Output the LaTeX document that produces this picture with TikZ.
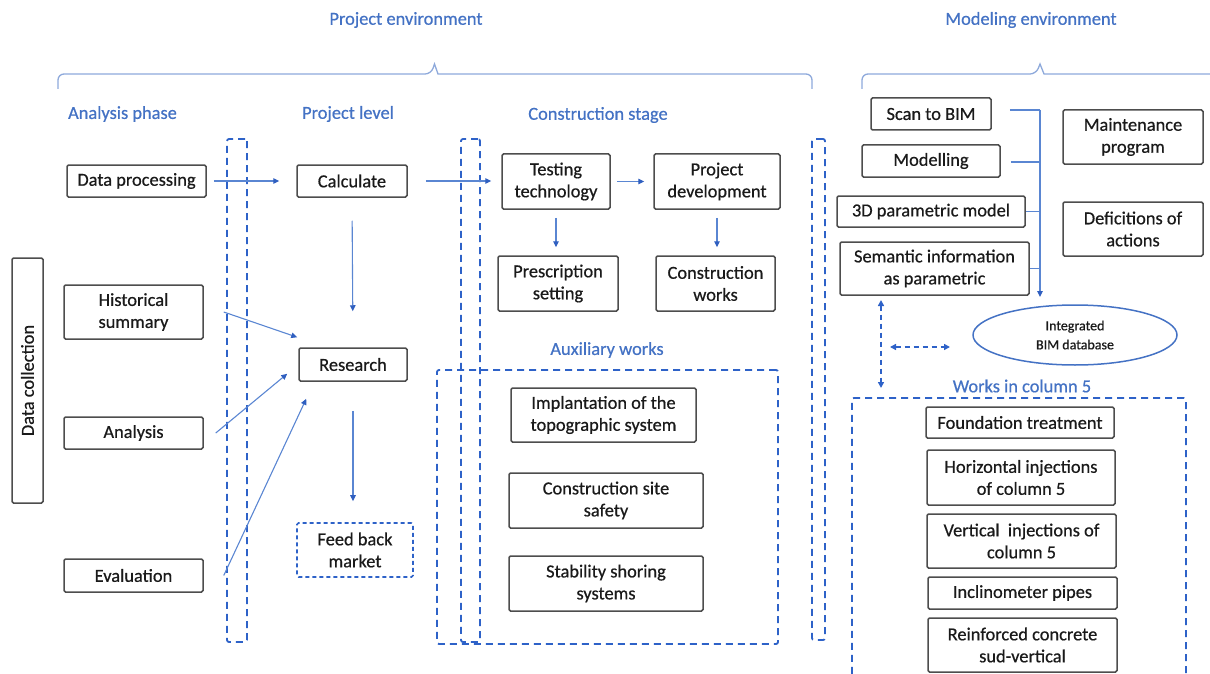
\documentclass[tikz,border=0pt]{standalone}
\usepackage{fontspec}
\setmainfont{Carlito}[FakeBold=0.6]
\usetikzlibrary{arrows.meta,calc,shapes.geometric}
\definecolor{lbl}{HTML}{4472C4}
\definecolor{dashc}{HTML}{2E62C8}
\definecolor{arrc}{HTML}{5A86D2}
\definecolor{tipc}{HTML}{2F5FC0}
\definecolor{bracec}{HTML}{8EA9DB}
\definecolor{boxc}{HTML}{4D4D4D}
\definecolor{txt}{HTML}{1A1A1A}
\begin{document}
\begin{tikzpicture}[x=1pt,y=-1pt,
  box/.style={draw=boxc, line width=1.5pt, rounded corners=1.5pt, align=center, inner sep=0pt,
    text=txt, font=\fontsize{18.4}{22}\selectfont},
  dbox/.style={draw=dashc, line width=1.8pt, dash pattern=on 7pt off 5pt, rounded corners=2pt, inner sep=0pt},
  lab/.style={text=lbl, font=\fontsize{18.4}{22}\selectfont, inner sep=0pt},
  arr/.style={draw=arrc, line width=1.1pt, -{Triangle[length=6pt,width=5.5pt,color=tipc]}},
  plain/.style={draw=arrc, line width=1.1pt},
  darr/.style={draw=dashc, line width=1.6pt, dash pattern=on 5pt off 4pt,
    {Triangle[length=6pt,width=6pt]}-{Triangle[length=6pt,width=6pt]}},
  bracestyle/.style={draw=bracec, line width=1.3pt}
]
\useasboundingbox (0,0) rectangle (1210,674);

% top labels and braces
\node[lab] (penv) at (406,20) {Project environment};
\node[lab] (menv) at (1031,20) {Modeling environment};
\draw[bracestyle] (58,89) [rounded corners=6pt] -- (58,74) -- (431,74) [sharp corners] -- (434.5,64) -- (438,74) [rounded corners=6pt] -- (812,74) [sharp corners] -- (812,89);
\draw[bracestyle] (862,89) [rounded corners=6pt] -- (862,74) -- (1036,74) [sharp corners] -- (1040,64) -- (1044,74) -- (1215,74);

\node[lab] (aphase) at (122.5,114) {Analysis phase};
\node[lab] (plevel) at (348,114) {Project level};
\node[lab] (cstage) at (598,115) {Construction stage};

% dashed columns and groups
\node[dbox, minimum width=20, minimum height=503] (col1) at (237,390.5) {};
\node[dbox, minimum width=19, minimum height=503] (col2) at (470.5,390.5) {};
\node[dbox, minimum width=13, minimum height=501] (col3) at (818.5,389.5) {};
\node[dbox, minimum width=341, minimum height=274] (aux) at (607.5,507) {};
\node[dbox, minimum width=334, minimum height=310] (works) at (1019,553) {};
\node[lab] (auxl) at (607,350) {Auxiliary works};
\node[lab] (worksl) at (1022,386) {Works in column 5};

% left column
\node[box, rotate=90, minimum width=245, minimum height=31] (dc) at (27.5,380.5) {Data collection};
\node[box, minimum width=139, minimum height=32] (dp) at (136.5,181) {Data processing};
\node[box, minimum width=139, minimum height=54] (hist) at (133.5,312) {Historical\\summary};
\node[box, minimum width=139, minimum height=32] (anal) at (133.5,433) {Analysis};
\node[box, minimum width=139, minimum height=33] (eval) at (133.5,575.5) {Evaluation};

% project level
\node[box, minimum width=110, minimum height=32] (calc) at (352,181) {Calculate};
\node[box, minimum width=108, minimum height=33] (res) at (353,364.5) {Research};
\node[box, draw=dashc, line width=1.6pt, dash pattern=on 4pt off 3pt, minimum width=116, minimum height=54] (fb) at (355,550) {Feed back\\market};

% construction stage
\node[box, minimum width=108, minimum height=55] (test) at (556,181.5) {Testing\\technology};
\node[box, minimum width=126, minimum height=55] (pdev) at (717,181.5) {Project\\development};
\node[box, minimum width=120, minimum height=55] (pres) at (558,283.5) {Prescription\\setting};
\node[box, minimum width=119, minimum height=55] (cw) at (715.5,283.5) {Construction\\works};
\node[box, minimum width=185, minimum height=54] (impl) at (603.5,415) {Implantation of the\\topographic system};
\node[box, minimum width=194, minimum height=55] (css) at (606,500.5) {Construction site\\safety};
\node[box, minimum width=194, minimum height=55] (stab) at (606,583.5) {Stability shoring\\systems};

% modeling environment
\node[box, minimum width=120, minimum height=32] (scan) at (931,114) {Scan to BIM};
\node[box, minimum width=138, minimum height=32] (mod) at (931,161) {Modelling};
\node[box, minimum width=188, minimum height=31] (p3d) at (931,211.5) {3D parametric model};
\node[box, minimum width=189, minimum height=53] (sem) at (934.5,268.5) {Semantic information\\as parametric};
\node[box, minimum width=140, minimum height=54] (maint) at (1133,137) {Maintenance\\program};
\node[box, minimum width=140, minimum height=54] (defi) at (1133,229) {Deficitions of\\actions};
\node[ellipse, draw=lbl, line width=1.5pt, minimum width=204, minimum height=60, inner sep=0pt, align=center,
  text=txt, font=\fontsize{14}{19}\selectfont] (db) at (1075,335) {Integrated\\BIM database};

\node[box, minimum width=188, minimum height=31] (found) at (1020,422.5) {Foundation treatment};
\node[box, minimum width=188, minimum height=55] (hinj) at (1021,477.5) {Horizontal injections\\of column 5};
\node[box, minimum width=189, minimum height=54] (vinj) at (1021.5,541) {Vertical\ \ injections of\\column 5};
\node[box, minimum width=189, minimum height=32] (incl) at (1022.5,593) {Inclinometer pipes};
\node[box, minimum width=189, minimum height=54] (rc) at (1022.5,645) {Reinforced concrete\\sud-vertical};

% arrows
\draw[arr, shorten <=7pt, shorten >=17pt] (dp.east) -- (calc.west);
\draw[arr, shorten <=18pt, shorten >=10pt] (calc.east) -- (calc.east -| test.west);
\draw[arr, shorten <=6pt, shorten >=9pt] (test.east) -- (pdev.west);
\draw[arr, shorten <=23pt, shorten >=36pt] (calc.south) -- (res.north);
\draw[arr, shorten <=8pt, shorten >=8pt] (test.south) -- (test.south |- pres.north);
\draw[arr, shorten <=8pt, shorten >=8pt] (pdev.south) -- (pdev.south |- cw.north);
\draw[arr, shorten <=29pt, shorten >=21pt] (res.south) -- (res.south |- fb.north);
\draw[arr] ($(hist.east)+(20,0)$) -- ($(res.north west)+(-1,-10)$);
\draw[arr] ($(anal.east)+(12,0)$) -- ($(res.south west)+(-11,-8)$);
\draw[arr] ($(eval.east)+(20,0)$) -- ($(res.south west)+(8,17)$);

% modeling bus
\coordinate (bustop) at (1040,110);
\coordinate (busbot) at (1040,297);
\draw[plain] ($(scan.east)+(18,-4)$) -- (bustop);
\draw[arr] (bustop) -- (busbot);
\draw[plain] ($(mod.east)+(10,1)$) -- (bustop |- {$(mod.east)+(0,1)$});
\draw[plain] (p3d.east) -- (bustop |- p3d.east);
\draw[plain] (sem.east) -- (bustop |- sem.east);

% dashed double arrows
\coordinate (va) at (881,300);
\coordinate (vb) at (881,388);
\coordinate (ha) at (890,347);
\coordinate (hb) at (950,347);
\draw[darr] (va) -- (vb);
\draw[darr] (ha) -- (hb);
\end{tikzpicture}
\end{document}
